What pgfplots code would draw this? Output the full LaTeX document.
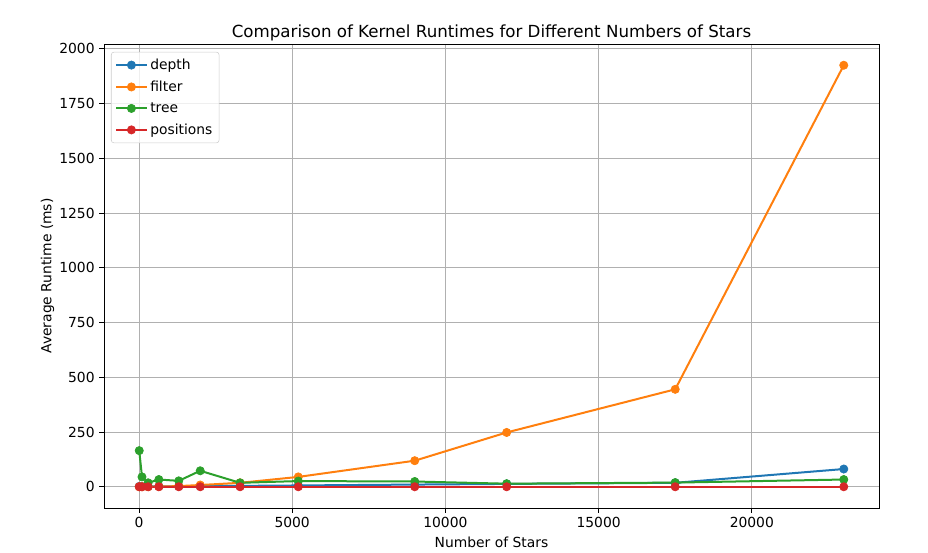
\documentclass[border=0pt]{standalone}
\usepackage{pgfplots}
\pgfplotsset{compat=1.18}
\usepackage{fontspec}
\setmainfont{DejaVu Sans}
\definecolor{c1}{HTML}{1F77B4}
\definecolor{c2}{HTML}{FF7F0E}
\definecolor{c3}{HTML}{2CA02C}
\definecolor{c4}{HTML}{D62728}
\begin{document}
\begin{tikzpicture}
\begin{axis}[
  scale only axis, width=581.25pt, height=348pt,
  xmin=-1140, xmax=24150, ymin=-97, ymax=2022,
  xtick={0,5000,10000,15000,20000},
  ytick={0,250,500,750,1000,1250,1500,1750,2000},
  xtick pos=left, ytick pos=left,
  scaled ticks=false,
  /pgf/number format/assume math mode=true,
  /pgf/number format/1000 sep={},
  tick label style={font=\fontsize{10.4}{12}\selectfont},
  label style={font=\fontsize{10.4}{12}\selectfont},
  title style={font=\fontsize{12.5}{14}\selectfont, yshift=-7pt},
  title={Comparison of Kernel Runtimes for Different Numbers of Stars},
  xlabel={Number of Stars}, ylabel={Average Runtime (ms)},
  xlabel style={yshift=0pt}, ylabel style={yshift=-3pt},
  grid=major, grid style={color=black!31, line width=0.6pt},
  tick align=outside, tick style={black, line width=0.6pt},
  major tick length=3.5pt,
  axis line style={line width=0.6pt},
  legend style={font=\fontsize{10.4}{12}\selectfont, draw=black!20, rounded corners=2pt, fill=white, fill opacity=0.8, text opacity=1, draw opacity=1, row sep=3pt, at={(0.009,0.983)}, anchor=north west, inner sep=3pt},
  legend cell align=left,
  legend image code/.code={\draw[mark repeat=2,mark phase=2] plot coordinates {(0cm,0cm)(0.4cm,0cm)(0.8cm,0cm)};},
  every axis plot/.append style={line width=1.5pt, mark=*, mark size=3.1pt},
]
\addplot[color=c1, mark options={fill=c1, draw=c1, line width=0.5pt, fill opacity=1, draw opacity=1}] coordinates {
(10,2) (100,1) (300,1) (650,2) (1300,2) (2000,3) (3300,4) (5200,6) (9000,10) (12000,13) (17500,18) (23000,81)};
\addlegendentry{depth}
\addplot[color=c2, mark options={fill=c2, draw=c2, line width=0.5pt, fill opacity=1, draw opacity=1}] coordinates {
(10,0) (100,0) (300,0) (650,1) (1300,3) (2000,8) (3300,18) (5200,45) (9000,119) (12000,248) (17500,445) (23000,1925)};
\addlegendentry{filter}
\addplot[color=c3, mark options={fill=c3, draw=c3, line width=0.5pt, fill opacity=1, draw opacity=1}] coordinates {
(10,165) (100,45) (300,18) (650,33) (1300,27) (2000,73) (3300,18) (5200,26) (9000,24) (12000,14) (17500,19) (23000,33)};
\addlegendentry{tree}
\addplot[color=c4, mark options={fill=c4, draw=c4, line width=0.5pt, fill opacity=1, draw opacity=1}] coordinates {
(10,0) (100,0) (300,0) (650,0) (1300,0) (2000,0) (3300,0) (5200,0) (9000,0) (12000,0) (17500,0) (23000,0)};
\addlegendentry{positions}
\end{axis}
\useasboundingbox (-78pt,-30pt) rectangle (618pt,381pt);
\end{tikzpicture}
\end{document}
